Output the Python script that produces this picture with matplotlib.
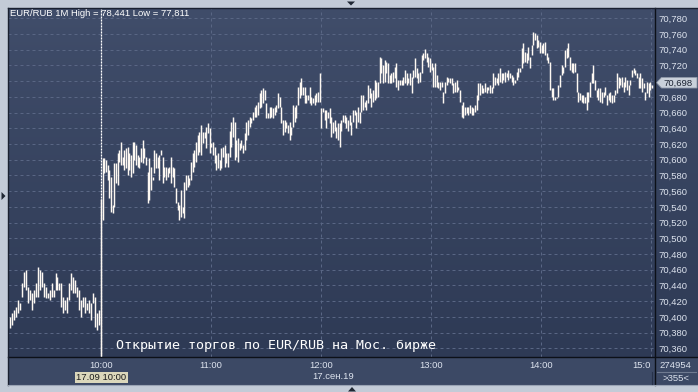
import numpy as np
import matplotlib
matplotlib.use("Agg")
import matplotlib.pyplot as plt
from matplotlib.colors import LinearSegmentedColormap
from matplotlib.patches import Polygon, Rectangle
from matplotlib.lines import Line2D

# ---------------- data ----------------
title_text = "EUR/RUB 1M High = 78,441 Low = 77,811"
note_text = "Открытие торгов по EUR/RUB на Мос. бирже"
date_text = "17.сен.19"
cursor_text = "17.09 10:00"
volume_text = "274954"
bars_text = ">355<"
last_price = 70.698

# minutes relative to 10:00
pre_start, pre_end = -49.6, -1.1
main_start, main_end = 0.0, 300.5

pre_high = [70.400, 70.405, 70.409, 70.413, 70.421, 70.418, 70.443, 70.457, 70.460, 70.438,
            70.434, 70.430, 70.434, 70.443, 70.463, 70.460, 70.457, 70.443, 70.438, 70.430,
            70.434, 70.443, 70.434, 70.456, 70.451, 70.443, 70.443, 70.425, 70.421, 70.425,
            70.443, 70.456, 70.451, 70.447, 70.438, 70.434, 70.421, 70.425, 70.425, 70.418,
            70.421, 70.418, 70.430, 70.425, 70.405, 70.409]
pre_low = [70.386, 70.390, 70.396, 70.400, 70.405, 70.409, 70.425, 70.438, 70.434, 70.418,
           70.421, 70.409, 70.418, 70.425, 70.425, 70.434, 70.438, 70.425, 70.424, 70.424,
           70.421, 70.425, 70.425, 70.434, 70.434, 70.434, 70.413, 70.405, 70.409, 70.405,
           70.421, 70.434, 70.430, 70.430, 70.425, 70.409, 70.400, 70.413, 70.405, 70.409,
           70.405, 70.396, 70.418, 70.387, 70.383, 70.390]

main_high = [
    70.550, 70.602, 70.602, 70.600, 70.593, 70.587, 70.578, 70.542, 70.596, 70.596,
    70.609, 70.612, 70.623, 70.603, 70.612, 70.615, 70.616, 70.609, 70.606, 70.623,
    70.623, 70.619, 70.606, 70.603, 70.615, 70.625, 70.615, 70.603, 70.584, 70.602,
    70.591, 70.578, 70.612, 70.609, 70.603, 70.606, 70.612, 70.603, 70.591, 70.591,
    70.589, 70.591, 70.603, 70.591, 70.589, 70.564, 70.546, 70.542, 70.561, 70.540,
    70.572, 70.581, 70.581, 70.577, 70.597, 70.609, 70.612, 70.623, 70.631, 70.635,
    70.644, 70.635, 70.635, 70.642, 70.647, 70.640, 70.621, 70.623, 70.616, 70.606,
    70.609, 70.600, 70.615, 70.616, 70.619, 70.609, 70.609, 70.637, 70.648, 70.654,
    70.648, 70.625, 70.628, 70.621, 70.625, 70.619, 70.634, 70.648, 70.650, 70.654,
    70.653, 70.661, 70.667, 70.670, 70.673, 70.685, 70.689, 70.691, 70.689, 70.672,
    70.659, 70.667, 70.667, 70.666, 70.667, 70.670, 70.685, 70.680, 70.667, 70.650,
    70.650, 70.648, 70.644, 70.648, 70.642, 70.670, 70.667, 70.670, 70.693, 70.699,
    70.704, 70.693, 70.693, 70.682, 70.682, 70.693, 70.680, 70.679, 70.682, 70.685,
    70.686, 70.710, 70.666, 70.666, 70.663, 70.663, 70.661, 70.666, 70.654, 70.648,
    70.650, 70.642, 70.647, 70.647, 70.650, 70.657, 70.657, 70.654, 70.650, 70.657,
    70.648, 70.663, 70.663, 70.661, 70.667, 70.661, 70.682, 70.682, 70.673, 70.676,
    70.695, 70.691, 70.685, 70.689, 70.701, 70.699, 70.699, 70.731, 70.729, 70.721,
    70.727, 70.724, 70.723, 70.708, 70.710, 70.712, 70.718, 70.723, 70.701, 70.701,
    70.701, 70.705, 70.714, 70.710, 70.704, 70.710, 70.705, 70.714, 70.729, 70.717,
    70.710, 70.712, 70.733, 70.736, 70.741, 70.736, 70.731, 70.729, 70.723, 70.718,
    70.723, 70.708, 70.699, 70.699, 70.699, 70.686, 70.699, 70.705, 70.704, 70.704,
    70.704, 70.698, 70.699, 70.701, 70.693, 70.689, 70.670, 70.673, 70.667, 70.667,
    70.667, 70.670, 70.667, 70.666, 70.670, 70.682, 70.698, 70.698, 70.695, 70.691,
    70.698, 70.693, 70.693, 70.695, 70.693, 70.710, 70.705, 70.704, 70.710, 70.717,
    70.710, 70.710, 70.712, 70.710, 70.714, 70.710, 70.708, 70.705, 70.701, 70.712,
    70.717, 70.717, 70.742, 70.749, 70.737, 70.736, 70.743, 70.731, 70.746, 70.763,
    70.761, 70.759, 70.752, 70.750, 70.746, 70.749, 70.750, 70.736, 70.731, 70.724,
    70.691, 70.691, 70.680, 70.680, 70.695, 70.708, 70.721, 70.718, 70.740, 70.742,
    70.749, 70.731, 70.723, 70.723, 70.723, 70.710, 70.686, 70.685, 70.682, 70.682,
    70.680, 70.686, 70.686, 70.699, 70.710, 70.721, 70.701, 70.689, 70.691, 70.691,
    70.686, 70.686, 70.693, 70.682, 70.685, 70.686, 70.682, 70.682, 70.689, 70.710,
    70.705, 70.704, 70.705, 70.699, 70.705, 70.701, 70.695, 70.701, 70.714, 70.717,
    70.714, 70.710, 70.705, 70.710, 70.704, 70.698, 70.686, 70.699, 70.698, 70.699,
    70.695]
main_low = [
    70.350, 70.523, 70.583, 70.584, 70.574, 70.551, 70.533, 70.532, 70.540, 70.570,
    70.568, 70.597, 70.593, 70.593, 70.587, 70.589, 70.581, 70.587, 70.578, 70.583,
    70.600, 70.593, 70.591, 70.589, 70.597, 70.596, 70.602, 70.593, 70.545, 70.549,
    70.561, 70.574, 70.583, 70.589, 70.589, 70.574, 70.606, 70.570, 70.578, 70.574,
    70.578, 70.583, 70.570, 70.578, 70.565, 70.545, 70.536, 70.523, 70.527, 70.532,
    70.526, 70.561, 70.565, 70.568, 70.574, 70.584, 70.591, 70.597, 70.606, 70.610,
    70.606, 70.621, 70.628, 70.615, 70.634, 70.609, 70.616, 70.606, 70.596, 70.587,
    70.589, 70.587, 70.589, 70.603, 70.591, 70.596, 70.591, 70.603, 70.616, 70.629,
    70.600, 70.603, 70.597, 70.612, 70.615, 70.609, 70.612, 70.625, 70.631, 70.642,
    70.647, 70.650, 70.654, 70.654, 70.657, 70.666, 70.667, 70.672, 70.676, 70.653,
    70.653, 70.653, 70.654, 70.653, 70.657, 70.661, 70.666, 70.667, 70.647, 70.631,
    70.635, 70.640, 70.634, 70.625, 70.631, 70.642, 70.648, 70.653, 70.670, 70.679,
    70.682, 70.682, 70.672, 70.672, 70.676, 70.672, 70.670, 70.672, 70.670, 70.673,
    70.673, 70.673, 70.640, 70.661, 70.650, 70.640, 70.653, 70.647, 70.629, 70.634,
    70.637, 70.628, 70.625, 70.616, 70.637, 70.648, 70.647, 70.640, 70.637, 70.644,
    70.631, 70.648, 70.657, 70.640, 70.648, 70.647, 70.661, 70.663, 70.667, 70.663,
    70.672, 70.679, 70.667, 70.673, 70.676, 70.679, 70.680, 70.698, 70.710, 70.698,
    70.699, 70.710, 70.698, 70.698, 70.698, 70.699, 70.704, 70.693, 70.689, 70.695,
    70.695, 70.695, 70.698, 70.695, 70.698, 70.695, 70.685, 70.704, 70.705, 70.704,
    70.698, 70.699, 70.710, 70.727, 70.729, 70.724, 70.718, 70.712, 70.714, 70.693,
    70.693, 70.693, 70.691, 70.689, 70.693, 70.672, 70.685, 70.695, 70.699, 70.698,
    70.695, 70.685, 70.686, 70.686, 70.689, 70.673, 70.654, 70.653, 70.657, 70.659,
    70.657, 70.659, 70.657, 70.657, 70.661, 70.663, 70.676, 70.682, 70.685, 70.685,
    70.686, 70.685, 70.689, 70.685, 70.685, 70.691, 70.695, 70.698, 70.695, 70.699,
    70.698, 70.701, 70.699, 70.705, 70.701, 70.704, 70.699, 70.695, 70.698, 70.701,
    70.705, 70.712, 70.717, 70.723, 70.724, 70.723, 70.727, 70.717, 70.733, 70.746,
    70.752, 70.742, 70.743, 70.736, 70.736, 70.736, 70.733, 70.727, 70.723, 70.689,
    70.680, 70.676, 70.676, 70.679, 70.680, 70.693, 70.708, 70.710, 70.718, 70.729,
    70.731, 70.714, 70.712, 70.710, 70.712, 70.686, 70.673, 70.676, 70.673, 70.672,
    70.672, 70.663, 70.673, 70.680, 70.698, 70.698, 70.689, 70.680, 70.676, 70.673,
    70.672, 70.680, 70.682, 70.670, 70.676, 70.673, 70.672, 70.673, 70.682, 70.685,
    70.691, 70.695, 70.693, 70.686, 70.693, 70.689, 70.682, 70.695, 70.705, 70.710,
    70.708, 70.704, 70.691, 70.691, 70.686, 70.691, 70.676, 70.685, 70.680, 70.689,
    70.691]

hour_ticks = [0, 60, 120, 180, 240, 300]
hour_labels = ["10:00", "11:00", "12:00", "13:00", "14:00", "15:0"]
price_ticks = [70.360, 70.380, 70.400, 70.420, 70.440, 70.460, 70.480, 70.500, 70.520,
               70.540, 70.560, 70.580, 70.600, 70.620, 70.640, 70.660, 70.680, 70.700,
               70.720, 70.740, 70.760, 70.780]
# the last-price marker hides the tick label it covers
price_labels = ["" if abs(v - last_price) < 0.005 else f"{v:.3f}".replace(".", ",")
                for v in price_ticks]

# ---------------- layout / style ----------------
plt.rcParams["lines.scale_dashes"] = False
W, H = 698, 392
DPI = 100
outer_col = "#c3cbd7"
top_col, bot_col = "#404d6a", "#2e3a55"
band_col = "#3c4965"
grid_col = "#596684"
label_col = "#dde3ee"
bar_col = "#fdf8f2"
font = ["Liberation Sans", "DejaVu Sans"]


def R(x0, y0, x1, y1):
    return [x0 / W, 1 - y1 / H, (x1 - x0) / W, (y1 - y0) / H]


fig = plt.figure(figsize=(W / DPI, H / DPI), dpi=DPI, facecolor=outer_col)

# gradient background of the dark panel
bg = fig.add_axes(R(8, 8, 698, 357))
bg.set_zorder(-2)
cmap = LinearSegmentedColormap.from_list("bgc", [top_col, bot_col])
bg.imshow(np.linspace(0, 1, 256).reshape(-1, 1), aspect="auto", cmap=cmap,
          extent=[0, 1, 0, 1], interpolation="bilinear")
bg.axis("off")

# main axes
ax = fig.add_axes(R(8, 8, 655, 357))
ax.set_zorder(0)
ax.patch.set_alpha(0)
xl = ((8 - 101) * 60 / 110, (655 - 101) * 60 / 110)
ax.set_xlim(*xl)
ax.set_ylim(70.3489, 70.7931)
for s in ax.spines.values():
    s.set_visible(False)

ax.set_yticks(price_ticks)
ax.set_yticklabels(price_labels)
ax.yaxis.tick_right()
ax.tick_params(axis="y", length=0, pad=2.2, labelsize=6.8, labelcolor=label_col)
for lab in ax.get_yticklabels():
    lab.set_fontfamily(font)
ax.set_xticks(hour_ticks)
ax.tick_params(axis="x", length=0, labelbottom=False)
ax.grid(True, color=grid_col, lw=0.72, ls=(0, (2.16, 2.16)))

pre_t = np.linspace(pre_start, pre_end, len(pre_high))
main_t = np.linspace(main_start, main_end, len(main_high))
ax.vlines(pre_t, pre_low, pre_high, colors=bar_col, lw=1.05, zorder=3)
ax.vlines(main_t, main_low, main_high, colors=bar_col, lw=1.05, zorder=3)
ax.axvline(0, color="white", lw=0.9, ls=(0, (1.44, 0.72)), zorder=2)

# bottom time band
band = fig.add_axes(R(8, 357, 655, 385))
band.set_zorder(-1)
band.set_facecolor(band_col)
band.set_xlim(*xl)
band.set_ylim(0, 1)
band.set_xticks([]); band.set_yticks([])
for s in band.spines.values():
    s.set_visible(False)
yfr = 1 - (365.5 - 357) / 28
for t, lab in zip(hour_ticks, hour_labels):
    band.text(t, yfr, lab, ha="center" if len(lab) == 5 else "right",
              va="center", fontsize=6.8, color=label_col, family=font, clip_on=True,
              transform=band.transData if len(lab) == 5 else band.transData)

rb = fig.add_axes(R(655, 357, 698, 385))
rb.set_zorder(-1)
rb.set_facecolor(band_col)
rb.set_xticks([]); rb.set_yticks([])
for s in rb.spines.values():
    s.set_visible(False)

# overlay in pixel coordinates
ov = fig.add_axes([0, 0, 1, 1])
ov.set_zorder(5)
ov.patch.set_alpha(0)
ov.set_xlim(0, W)
ov.set_ylim(H, 0)
ov.axis("off")

ov.add_line(Line2D([8, 698], [357, 357], color="#0c1018", lw=1.0))
ov.add_line(Line2D([655, 655], [8, 385], color="#0c1018", lw=1.0))
ov.add_line(Line2D([8, 8], [8, 385], color="#1a2130", lw=1.0))
ov.add_line(Line2D([8, 698], [8, 8], color="#1a2130", lw=1.0))
ov.add_line(Line2D([8, 698], [385, 385], color="#9aa4b4", lw=0.8))
ov.add_line(Line2D([651.5, 651.5], [372, 384], color="#27324a", lw=0.8))
ov.add_line(Line2D([657, 696], [372, 372], color="#6f7a90", lw=0.8))

ov.text(10, 13.5, title_text, ha="left", va="center", fontsize=6.8, color="white",
        family=font)
ov.text(116, 348.5, note_text, ha="left", va="baseline", fontsize=9.6, color="white",
        family=["DejaVu Sans Mono"])

ov.add_patch(Rectangle((75, 371.5), 53, 11, facecolor="#dbd7bb", edgecolor="none"))
ov.text(101.5, 377.3, cursor_text, ha="center", va="center", fontsize=6.8,
        color="#1c1c1c", family=font)
ov.text(333, 376.8, date_text, ha="center", va="center", fontsize=6.8, color=label_col,
        family=font)
ov.text(675.5, 365.3, volume_text, ha="center", va="center", fontsize=6.8,
        color=label_col, family=font)
ov.text(676, 378.6, bars_text, ha="center", va="center", fontsize=6.8,
        color=label_col, family=font)

# last price marker on the right scale
fig.canvas.draw()
y_last = H - ax.transData.transform((0, last_price))[1]
ov.add_patch(Polygon([(656.5, y_last), (661.5, y_last - 5.3), (697, y_last - 5.3),
                      (697, y_last + 5.3), (661.5, y_last + 5.3)], closed=True,
                     facecolor="#c9d0da", edgecolor="#8e98a8", lw=0.6))
ov.text(663, y_last + 0.3, f"{last_price:.3f}".replace(".", ","), ha="left",
        va="center", fontsize=6.8, color="#1b2232", family=font)

# small navigation triangles
tri_col = "#1f2733"
ov.add_patch(Polygon([(347, 1.5), (355, 1.5), (351, 5.5)], closed=True, facecolor=tri_col,
                     edgecolor="none"))
ov.add_patch(Polygon([(348, 391.5), (356, 391.5), (352, 387)], closed=True,
                     facecolor=tri_col, edgecolor="none"))
ov.add_patch(Polygon([(1.5, 192), (1.5, 200), (5.5, 196)], closed=True, facecolor=tri_col,
                     edgecolor="none"))

fig.savefig("out.png", dpi=DPI, facecolor=outer_col)
